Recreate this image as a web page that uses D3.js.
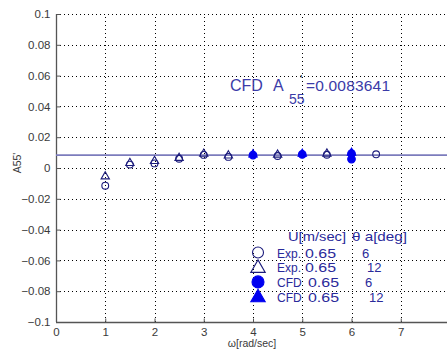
<!DOCTYPE html>
<html>
<head>
<meta charset="utf-8">
<script src="https://cdn.jsdelivr.net/npm/d3@7"></script>
<style>
  body { margin: 0; background: #fff; }
  svg { display: block; font-family: "Liberation Sans", Arial, sans-serif; }
</style>
</head>
<body>
<svg id="chart" width="447" height="352"></svg>
<script>
// data
const xTicks = [0, 1, 2, 3, 4, 5, 6, 7];
const yTicks = [-0.1, -0.08, -0.06, -0.04, -0.02, 0, 0.02, 0.04, 0.06, 0.08, 0.1];
const cfdA55 = 0.0083641;

const exp6Omega = [1, 1.5, 2, 2.5, 3, 3.5, 4.5, 5.5, 6.5];
const exp6Value = [-0.0115, 0.0022, 0.003, 0.006, 0.0085, 0.0072, 0.0078, 0.0086, 0.0089];
const exp12Omega = [1, 1.5, 2, 2.5, 3, 3.5, 4.5, 5.5];
const exp12Value = [-0.0055, 0.0032, 0.0045, 0.0065, 0.0092, 0.0081, 0.0086, 0.0093];
const cfd6Omega = [4, 5, 6, 6];
const cfd6Value = [0.0084, 0.0088, 0.0058, 0.0094];
const cfd12Omega = [4, 5, 6];
const cfd12Value = [0.0088, 0.0092, 0.0098];

const legendRows = [
  { sym: "circle", fill: false, src: "Exp.", u: "0.65", th: "6" },
  { sym: "triangle", fill: false, src: "Exp.", u: "0.65", th: "12" },
  { sym: "circle", fill: true, src: "CFD", u: "0.65", th: "6" },
  { sym: "triangle", fill: true, src: "CFD", u: "0.65", th: "12" }
];

const margin = { left: 56, top: 14, right: -3, bottom: 30 }; // plot runs off the right edge
const W = 447, H = 352;
const svg = d3.select("#chart");

const x = d3.scaleLinear().domain([0, 8]).range([margin.left, W - margin.right]);
const y = d3.scaleLinear().domain([-0.1, 0.1]).range([H - margin.bottom, margin.top]);

const textCol = "#3a3a3a";
const openCol = "#1c1c7c";
const fillCol = "#0000f0";
const blueText = "#3b3ba8";

// dotted grid
const grid = svg.append("g").attr("stroke", "#000").attr("stroke-width", 1).attr("stroke-dasharray", "1,3");
grid.selectAll(".gx").data(xTicks.filter(d => d > 0)).join("line")
  .attr("x1", d => Math.round(x(d)) + 0.5).attr("x2", d => Math.round(x(d)) + 0.5)
  .attr("y1", y(-0.1)).attr("y2", y(0.1));
grid.selectAll(".gy").data(yTicks.filter(d => d > -0.1)).join("line")
  .attr("x1", x(0)).attr("x2", W)
  .attr("y1", d => Math.round(y(d)) + 0.5).attr("y2", d => Math.round(y(d)) + 0.5);

// axes
const fmtY = d => d === 0 ? "0" : d3.format("")(+d.toFixed(2)).replace("-", "\u2212");
const yAxis = svg.append("g").attr("transform", `translate(${x(0) + 0.5},0)`)
  .call(d3.axisLeft(y).tickValues(yTicks).tickSizeInner(-4).tickSizeOuter(0).tickPadding(6).tickFormat(fmtY));
const xAxis = svg.append("g").attr("transform", `translate(0,${y(-0.1) + 0.5})`)
  .call(d3.axisBottom(x).tickValues(xTicks).tickSizeInner(-4).tickSizeOuter(0).tickPadding(5));
[xAxis, yAxis].forEach(a => {
  a.select(".domain").attr("stroke", "#555").attr("stroke-width", 1.3);
  a.selectAll(".tick line").attr("stroke", "#555");
  a.selectAll("text").attr("fill", textCol).attr("font-size", 11.5);
});
xAxis.select(".domain").attr("d", `M${x(0)},0H${W}`);
yAxis.select(".domain").attr("d", `M0,${y(0.1)}V${y(-0.1)}`);

// CFD reference line
svg.append("line")
  .attr("x1", x(0)).attr("x2", W)
  .attr("y1", y(cfdA55)).attr("y2", y(cfdA55))
  .attr("stroke", "#7c7cbc").attr("stroke-width", 1.6);

// markers
const tri = d3.symbol().type(d3.symbolTriangle).size(30);
function drawSeries(om, val, sym, filled) {
  const pts = om.map((o, i) => [o, val[i]]);
  const g = svg.append("g");
  if (sym === "circle") {
    g.selectAll("circle").data(pts).join("circle")
      .attr("cx", d => x(d[0])).attr("cy", d => y(d[1])).attr("r", filled ? 3.8 : 3.4)
      .attr("fill", filled ? fillCol : "none")
      .attr("stroke", filled ? fillCol : openCol).attr("stroke-width", 1.1);
  } else {
    g.selectAll("path").data(pts).join("path")
      .attr("d", tri)
      .attr("transform", d => `translate(${x(d[0])},${y(d[1])})`)
      .attr("fill", filled ? fillCol : "none")
      .attr("stroke", filled ? fillCol : openCol).attr("stroke-width", 1.1);
  }
}
drawSeries(exp6Omega, exp6Value, "circle", false);
drawSeries(exp12Omega, exp12Value, "triangle", false);
drawSeries(cfd6Omega, cfd6Value, "circle", true);
drawSeries(cfd12Omega, cfd12Value, "triangle", true);

// annotation text
const ann = svg.append("g").attr("fill", blueText);
ann.append("text").attr("x", 230).attr("y", 91).attr("font-size", 16).text("CFD");
ann.append("text").attr("x", 273).attr("y", 91).attr("font-size", 16).text("A");
ann.append("text").attr("x", 289).attr("y", 104).attr("font-size", 14).text("55");
ann.append("text").attr("x", 300).attr("y", 84).attr("font-size", 12).attr("fill", "#222").text("'");
ann.append("text").attr("x", 306).attr("y", 91).attr("font-size", 15.5).attr("textLength", 84).text("=0.0083641");

// legend
const leg = svg.append("g").attr("fill", "#2a2a9a").attr("font-size", 13);
const legText = (tx, ty, s, len) => {
  const t = leg.append("text").attr("x", tx).attr("y", ty).text(s);
  if (len) t.attr("textLength", len).attr("lengthAdjust", "spacingAndGlyphs");
  return t;
};
legText(288, 241, "U[m/sec]", 58);
legText(352, 241, "\u03b8 a[deg]", 55);
legendRows.forEach((r, i) => {
  const cy = 252.5 + i * 14.7;
  if (r.sym === "circle") {
    leg.append("circle").attr("cx", 258).attr("cy", cy).attr("r", r.fill ? 6 : 5.5)
      .attr("fill", r.fill ? fillCol : "none").attr("stroke", r.fill ? fillCol : openCol).attr("stroke-width", 1.1);
  } else {
    leg.append("path").attr("d", d3.symbol().type(d3.symbolTriangle).size(90))
      .attr("transform", `translate(258,${cy + 1})`)
      .attr("fill", r.fill ? fillCol : "none").attr("stroke", r.fill ? fillCol : openCol).attr("stroke-width", 1.1);
  }
  const isCfd = r.src === "CFD";
  legText(277, cy + 5, r.src).attr("font-size", 12);
  legText(isCfd ? 308 : 305, cy + 5, r.u, 31);
  legText(r.th === "6" ? 362 + (isCfd ? 3 : 0) : 367 + (isCfd ? 2 : 0), cy + 5, r.th);
});

// axis titles
svg.append("text").attr("transform", "translate(21,163) rotate(-90)")
  .attr("text-anchor", "middle").attr("font-size", 10.5).attr("fill", textCol).text("A55'");
svg.append("text").attr("x", 252).attr("y", 347)
  .attr("text-anchor", "middle").attr("font-size", 10.5).attr("fill", textCol).text("\u03c9[rad/sec]");
</script>
</body>
</html>
